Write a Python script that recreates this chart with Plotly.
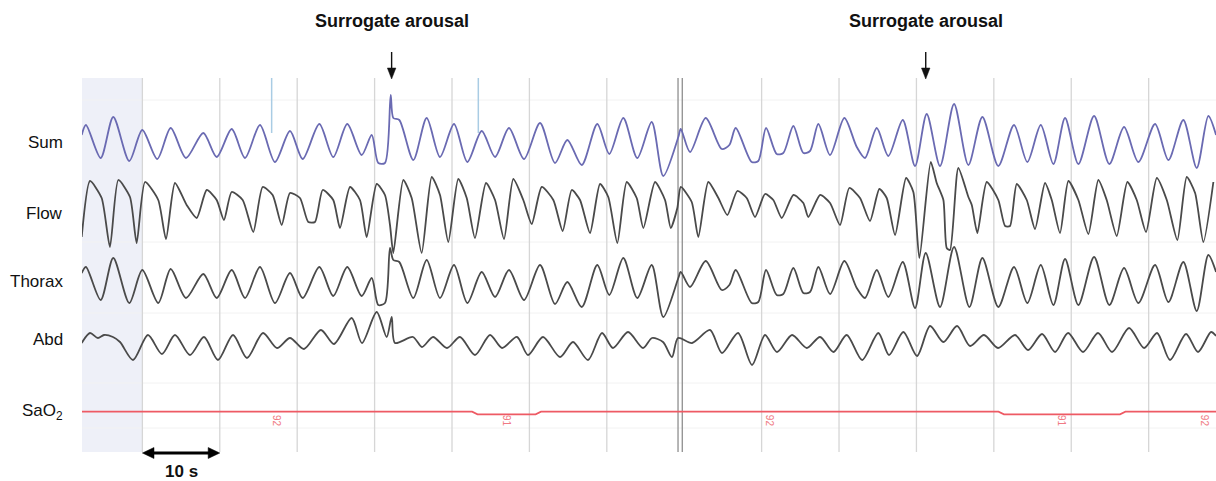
import plotly.graph_objects as go

# ---------------- data (time in s, amplitude in arbitrary units) ----------------
sum_t = [2.16, 2.71, 4.61, 6.24, 8.31, 9.99, 11.92, 13.66, 15.63, 17.87, 19.6, 21.54, 23.26, 25.19,
         27.13, 29.07, 30.71, 32.86, 34.66, 36.47, 38.33, 39.63, 40.48, 41.34, 42.08, 42.42, 43.19,
         45.0, 46.73, 48.45, 50.26, 51.98, 53.84, 55.56, 57.36, 59.3, 61.37, 63.31, 64.9, 66.76,
         68.77, 70.32, 72.13, 73.94, 75.8, 77.3, 79.24, 79.55, 80.75, 82.78, 84.85, 85.83, 86.65,
         88.72, 89.57, 90.57, 91.95, 92.8, 94.1, 95.39, 96.25, 97.33, 98.84, 100.69, 102.29, 103.36,
         104.87, 106.37, 108.23, 109.82, 111.33, 113.05, 114.86, 116.71, 118.52, 120.58, 122.61,
         124.33, 126.06, 127.69, 129.2, 130.92, 132.95, 134.92, 136.82, 138.67, 140.83, 142.55,
         144.48, 146.21, 147.71, 148.71]
sum_v = [8, 18, -15, 26, -18, 13, -16, 15, -15, 10, -14, 14, -15, 18,
         -19, 12, -16, 19, -14, 19, -12, 8, -20, -20, 48, 25, 23,
         -17, 25, -14, 19, -19, 12, -14, 15, -16, 20, -20, 3, -22,
         19, -11, 25, -15, 21, -33, 6, 14, -9, 25, -6, -2, 15,
         -19, -18, 15, -11, -10, 17, -10, -8, 19, -12, 25, -4, -15,
         15, -13, 23, -23, 29, -23, 39, -22, 26, -23, 18,
         -19, 18, -21, 25, -21, 27, -21, 16, -19, 19, -17,
         23, -25, 27, 8]

flow_t = [2.16, 3.23, 4.74, 5.81, 6.89, 8.4, 9.26, 10.34, 12.05, 13.05, 14.21, 15.72, 17.02, 18.31,
          19.6, 20.54, 21.54, 22.96, 24.33, 25.54, 26.83, 28.0, 29.07, 30.36, 31.43, 32.3, 33.3,
          34.66, 35.53, 36.82, 38.11, 38.98, 40.27, 41.34, 41.99, 42.42, 43.71, 44.79, 46.08, 47.38,
          48.45, 49.52, 50.81, 51.9, 52.97, 54.39, 55.56, 56.72, 57.92, 59.21, 60.3, 61.59, 63.09,
          64.3, 65.47, 66.54, 67.83, 69.12, 70.19, 71.36, 72.57, 73.86, 74.72, 76.23, 77.52, 78.26,
          79.11, 79.55, 80.97, 81.82, 83.11, 84.41, 85.57, 86.86, 88.07, 89.15, 90.44, 91.51, 92.6,
          94.1, 95.39, 96.03, 97.55, 98.84, 100.13, 101.33, 102.71, 104.0, 105.21, 106.16, 107.24,
          108.66, 109.6, 110.38, 111.85, 112.62, 113.48, 113.91, 114.34, 115.41, 116.71, 117.15,
          117.87, 119.08, 120.58, 121.45, 122.09, 122.96, 124.25, 125.32, 126.61, 127.48, 128.55,
          129.63, 130.92, 132.21, 133.5, 134.58, 135.88, 137.25, 138.46, 139.66, 141.05, 142.34,
          143.71, 144.92, 146.0, 147.07, 148.36]
flow_v = [-25, 31, 14, -35, 32, 15, -31, 30, 12, -27, 29, 7, -6, 22,
          12, -8, 20, 12, -20, 25, 17, -13, 19, 14, -10, -10, 22,
          12, -16, 25, 12, -25, 28, 17, -13, -41, 32, 14, -41, 35,
          17, -30, 33, 14, -26, 29, 12, -27, 33, 12, -12, 25, 12,
          -19, 22, 12, -21, 28, 15, -31, 30, 14, -16, 30, 12, -16,
          4, 25, 10, -25, 30, 14, -3, 21, 14, -5, 18, 12, -6,
          17, 9, -5, 17, 9, -13, 24, 14, -9, 23, 14, -23,
          34, 20, -46, 50, 29, 12, -36, -38, 44, 15, 7,
          -21, 30, 12, -14, -14, 28, 12, -17, 29, 12, -21,
          31, 12, -22, 32, 12, -24, 30, 12, -20, 34, 12,
          -28, 35, 19, -30, 30]

thorax_t = [2.16, 2.71, 4.61, 6.24, 8.31, 9.99, 12.05, 13.66, 15.63, 17.87, 19.6, 21.54, 23.26, 25.19,
            27.13, 29.07, 30.71, 32.86, 34.66, 36.47, 38.33, 39.63, 40.48, 41.34, 41.99, 42.42, 43.19,
            45.0, 46.73, 48.45, 50.26, 51.98, 53.84, 55.56, 57.36, 59.3, 61.37, 63.31, 64.9, 66.76,
            68.77, 70.32, 72.13, 73.94, 75.8, 77.3, 79.24, 79.55, 80.75, 82.78, 84.85, 85.83, 86.65,
            88.72, 89.57, 90.57, 91.95, 92.8, 94.1, 95.39, 96.25, 97.33, 98.84, 100.69, 102.29, 103.36,
            104.87, 106.37, 108.23, 109.82, 111.2, 113.05, 114.86, 116.84, 118.52, 120.58, 122.61,
            124.33, 126.06, 127.69, 129.2, 130.92, 132.95, 134.92, 136.82, 138.67, 140.83, 142.55,
            144.48, 146.21, 147.71, 148.71]
thorax_v = [11, 17, -16, 26, -19, 14, -19, 15, -14, 10, -14, 14, -14, 17,
            -19, 11, -14, 17, -12, 17, -12, 6, -21, -19, 36, 24, 22,
            -14, 24, -14, 19, -19, 12, -13, 14, -16, 19, -20, 2, -23,
            19, -11, 26, -14, 19, -33, 6, 12, -3, 23, -6, -1, 14,
            -19, -18, 14, -11, -10, 16, -9, -8, 17, -10, 23, -4, -14,
            14, -13, 22, -24, 31, -23, 37, -23, 26, -23, 17,
            -19, 19, -21, 25, -21, 27, -21, 16, -19, 19, -18,
            22, -27, 29, 12]

abd_t = [2.16, 3.23, 4.26, 5.04, 6.2, 7.11, 8.79, 10.72, 12.53, 14.21, 16.15, 17.96, 19.77, 21.71,
         23.51, 25.58, 27.39, 29.07, 30.88, 33.07, 34.75, 37.04, 38.37, 40.27, 41.56, 42.21, 42.64,
         44.96, 46.12, 47.55, 49.35, 51.03, 52.97, 54.91, 56.46, 58.4, 59.82, 61.76, 63.95, 65.63,
         67.57, 69.38, 70.8, 72.74, 74.68, 75.84, 77.26, 78.42, 79.2, 81.01, 83.33, 84.88, 86.95,
         88.76, 90.44, 91.99, 93.93, 95.83, 97.55, 99.27, 100.99, 102.98, 105.08, 106.46, 108.31,
         110.08, 111.76, 113.48, 115.25, 116.93, 118.73, 120.54, 122.74, 124.42, 126.23, 127.91,
         129.59, 131.52, 133.46, 135.27, 137.47, 139.41, 141.09, 142.76, 144.83, 146.38, 148.06, 148.71]
abd_v = [-2, 8, 3, 6, 4, -1, -19, 6, -13, 6, -14, 4, -19, 6,
         -17, 8, -7, 3, -8, 11, -3, 23, -2, 29, 4, 24, -2,
         4, -6, 4, -7, 4, -14, 6, -7, 4, -14, 4, -16, -1,
         -19, 8, -7, 9, -7, 3, -1, -16, 3, -2, 11, -12, 8,
         -24, 6, -11, 6, -7, 4, -11, 6, -19, 8, -14, 9,
         -15, 15, -1, 15, -5, 6, -7, 6, -9, 7, -11,
         8, -11, 8, -11, 13, -7, 8, -19, 7, -11, 9, 5]

sao2_t = [2.2, 52.6, 53.3, 60.8, 61.5, 120.6, 121.3, 136.3, 137.0, 148.7]
sao2_v = [92, 92, 91, 91, 92, 92, 91, 91, 92, 92]
sao2_label_t = [27.4, 57.1, 91.1, 128.8, 147.3]
sao2_label_txt = ["92", "91", "92", "91", "92"]

channel_names = ["Sum", "Flow", "Thorax", "Abd", "SaO<sub>2</sub>"]
grid_times = [10, 20, 30, 40, 50, 60, 70, 90, 100, 110, 120, 130, 140]
event_marker_times = [26.7, 53.4]
arousal_times = [42.2, 111.2]
scale_bar = [10, 20]  # seconds

# ---------------- layout settings (positions / styles) ----------------
X_RANGE = [2.2, 148.7]
BASE = {"Sum": 143, "Flow": 212, "Thorax": 284, "Abd": 341}
SAO2_BASE, SAO2_REF, SAO2_SCALE = 411.7, 92, 2.6
LABEL_Y = [142, 213, 281, 339, 412]
TOP, BOTTOM = 78, 452
FONT = "Liberation Sans, Arial, sans-serif"
TRACE_COL = "#4a4a4a"
SUM_COL = "#6a6ab2"
RED = "#ee5a64"

fig = go.Figure()

def add_trace(t, v, base, color, smoothing=0.8):
    fig.add_trace(go.Scatter(
        x=t, y=[base - a for a in v], mode="lines",
        line=dict(color=color, width=1.8, shape="spline", smoothing=smoothing),
        hoverinfo="skip", showlegend=False))

add_trace(sum_t, sum_v, BASE["Sum"], SUM_COL)
add_trace(flow_t, flow_v, BASE["Flow"], TRACE_COL, smoothing=0.6)
add_trace(thorax_t, thorax_v, BASE["Thorax"], TRACE_COL)
add_trace(abd_t, abd_v, BASE["Abd"], TRACE_COL)
fig.add_trace(go.Scatter(
    x=sao2_t, y=[SAO2_BASE + (SAO2_REF - v) * SAO2_SCALE for v in sao2_v], mode="lines",
    line=dict(color=RED, width=1.7), hoverinfo="skip", showlegend=False))

shapes = []
# shaded first epoch
shapes.append(dict(type="rect", xref="x", yref="y", x0=X_RANGE[0], x1=10, y0=TOP, y1=BOTTOM,
                   fillcolor="#eef0f8", line=dict(width=0), layer="below"))
# faint horizontal lines
for yy in [100, 242, 313, 383, 428]:
    shapes.append(dict(type="line", xref="x", yref="y", x0=X_RANGE[0], x1=X_RANGE[1], y0=yy, y1=yy,
                       line=dict(color="#f2f2f2", width=1), layer="below"))
# vertical 10 s grid
for g in grid_times:
    shapes.append(dict(type="line", xref="x", yref="y", x0=g, x1=g, y0=TOP, y1=BOTTOM,
                       line=dict(color="#d6d6d6", width=1.3), layer="below"))
for g in [79.2, 79.75]:
    shapes.append(dict(type="line", xref="x", yref="y", x0=g, x1=g, y0=TOP, y1=BOTTOM,
                       line=dict(color="#8f8f8f", width=1.3), layer="below"))
# light blue event markers
for e in event_marker_times:
    shapes.append(dict(type="line", xref="x", yref="y", x0=e, x1=e, y0=TOP, y1=133,
                       line=dict(color="#a9cce4", width=1.5), layer="below"))

# arousal arrows (line + triangular head)
HW = 0.55  # half width of arrow head in s
for at in arousal_times:
    shapes.append(dict(type="line", xref="x", yref="y", x0=at, x1=at, y0=52, y1=70,
                       line=dict(color="#111", width=1.4)))
    shapes.append(dict(type="path", xref="x", yref="y",
                       path=f"M {at - HW} 68 L {at + HW} 68 L {at} 79 Z",
                       fillcolor="#111", line=dict(color="#111", width=0.5)))
# 10 s double arrow
s0, s1 = scale_bar
HL = 1.5  # head length in s
shapes.append(dict(type="line", xref="x", yref="y", x0=s0 + HL * 0.8, x1=s1 - HL * 0.8, y0=453, y1=453,
                   line=dict(color="#000", width=3)))
shapes.append(dict(type="path", xref="x", yref="y",
                   path=f"M {s0} 453 L {s0 + HL} 447.5 L {s0 + HL} 458.5 Z",
                   fillcolor="#000", line=dict(color="#000", width=0.5)))
shapes.append(dict(type="path", xref="x", yref="y",
                   path=f"M {s1} 453 L {s1 - HL} 447.5 L {s1 - HL} 458.5 Z",
                   fillcolor="#000", line=dict(color="#000", width=0.5)))

annotations = []
for name, yy in zip(channel_names, LABEL_Y):
    annotations.append(dict(xref="paper", yref="y", x=-0.015, y=yy, text=name, showarrow=False,
                            xanchor="right", yanchor="middle",
                            font=dict(family=FONT, size=17, color="#111")))
for at in arousal_times:
    annotations.append(dict(xref="x", yref="y", x=at, y=21, text="<b>Surrogate arousal</b>",
                            showarrow=False, xanchor="center", yanchor="middle",
                            font=dict(family=FONT, size=18, color="#111")))
annotations.append(dict(xref="x", yref="y", x=sum(scale_bar) / 2, y=471, text="<b>10 s</b>",
                        showarrow=False, xanchor="center", yanchor="middle",
                        font=dict(family=FONT, size=17, color="#111")))
for lt, lab in zip(sao2_label_t, sao2_label_txt):
    annotations.append(dict(xref="x", yref="y", x=lt, y=421, text=lab, showarrow=False,
                            textangle=90, font=dict(family=FONT, size=10, color="#f07a84")))

fig.update_layout(
    width=1216, height=481,
    margin=dict(l=82, r=0, t=0, b=0),
    paper_bgcolor="white", plot_bgcolor="white",
    xaxis=dict(visible=False, range=X_RANGE, fixedrange=True),
    yaxis=dict(visible=False, range=[481, 0], fixedrange=True),
    shapes=shapes, annotations=annotations, showlegend=False,
)

fig.write_html("out.html")
